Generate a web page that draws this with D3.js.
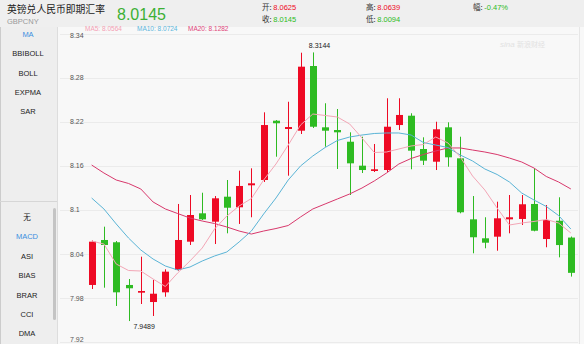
<!DOCTYPE html>
<html>
<head>
<meta charset="utf-8">
<script src="https://cdn.jsdelivr.net/npm/d3@7"></script>
<style>
  html, body { margin: 0; padding: 0; background: #fff; }
  svg { display: block; font-family: "Liberation Sans", Arial, "Noto Sans CJK SC", sans-serif; }
</style>
</head>
<body>
<div id="chart"></div>
<script>
// GBP/CNY daily candles (red = up, green = down)
const opens  = [7.9980, 8.0592, 8.0561, 7.9980, 7.9875, 7.9748, 7.9880, 8.0184, 8.0569, 8.0955,
                8.0841, 8.1181, 8.1037, 8.1336, 8.1408, 8.2215, 8.2102, 8.2079, 8.2959, 8.2125,
                8.2088, 8.1929, 8.1603, 8.1531, 8.1544, 8.2156, 8.2283, 8.1830, 8.1657, 8.2125,
                8.1703, 8.0873, 8.0615, 8.0637, 8.0873, 8.0878, 8.1082, 8.0605, 8.0854, 8.0625];
const closes = [8.0569, 8.0524, 7.9880, 7.9935, 7.9898, 7.9861, 8.0161, 8.0592, 8.0932, 8.0873,
                8.1159, 8.1031, 8.1327, 8.1363, 8.2156, 8.2180, 8.2129, 8.2950, 8.2133, 8.2079,
                8.2057, 8.1635, 8.1544, 8.1554, 8.2133, 8.2293, 8.1807, 8.1671, 8.2098, 8.1717,
                8.0969, 8.0629, 8.0555, 8.0887, 8.0901, 8.1078, 8.0718, 8.0864, 8.0523, 8.0145];
const highs  = [8.0585, 8.0773, 8.0578, 8.0061, 8.0365, 8.0048, 8.0193, 8.1082, 8.1204, 8.1235,
                8.1190, 8.1408, 8.1535, 8.1567, 8.2329, 8.2224, 8.2473, 8.3140, 8.3144, 8.2452,
                8.2374, 8.2057, 8.1997, 8.1898, 8.2520, 8.2520, 8.2316, 8.1989, 8.2201, 8.2193,
                8.1997, 8.1190, 8.0901, 8.1113, 8.1204, 8.1204, 8.1567, 8.1068, 8.1173, 8.0639];
const lows   = [7.9925, 7.9943, 7.9694, 7.9489, 7.9721, 7.9558, 7.9820, 8.0174, 8.0524, 8.0864,
                8.0537, 8.0683, 8.0810, 8.0901, 8.1381, 8.1725, 8.1467, 8.2034, 8.2116, 8.1861,
                8.1558, 8.1204, 8.1503, 8.1517, 8.1517, 8.2088, 8.1554, 8.1612, 8.1544, 8.1589,
                8.0955, 8.0411, 8.0479, 8.0446, 8.0683, 8.0796, 8.0710, 8.0493, 8.0356, 8.0094];

// moving averages as drawn
const ma5  = [8.0578, 8.0537, 8.0265, 8.0177, 8.0170, 8.0061, 7.9959, 8.0143, 8.0306, 8.0483,
              8.0741, 8.0918, 8.1054, 8.1156, 8.1408, 8.1626, 8.1884, 8.2156, 8.2306, 8.2286,
              8.2265, 8.2170, 8.1980, 8.1782, 8.1789, 8.1830, 8.1871, 8.1891, 8.1993, 8.1912,
              8.1721, 8.1463, 8.1272, 8.1027, 8.0796, 8.0823, 8.0844, 8.0871, 8.0823, 8.0687];
const ma10 = [8.1163, 8.1014, 8.0810, 8.0619, 8.0456, 8.0333, 8.0238, 8.0184, 8.0224, 8.0306,
              8.0374, 8.0429, 8.0565, 8.0714, 8.0946, 8.1163, 8.1408, 8.1599, 8.1735, 8.1850,
              8.1946, 8.1993, 8.2020, 8.2041, 8.2048, 8.2048, 8.2020, 8.1918, 8.1884, 8.1850,
              8.1748, 8.1667, 8.1558, 8.1483, 8.1381, 8.1231, 8.1136, 8.1048, 8.0925, 8.0741];
const ma20 = [8.1612, 8.1503, 8.1408, 8.1361, 8.1286, 8.1109, 8.1014, 8.0952, 8.0891, 8.0850,
              8.0816, 8.0769, 8.0714, 8.0673, 8.0714, 8.0748, 8.0789, 8.0905, 8.1014, 8.1082,
              8.1150, 8.1218, 8.1299, 8.1395, 8.1503, 8.1626, 8.1701, 8.1755, 8.1803, 8.1844,
              8.1844, 8.1816, 8.1789, 8.1755, 8.1707, 8.1653, 8.1571, 8.1456, 8.1381, 8.1286];

const yTicks = [8.34, 8.28, 8.22, 8.16, 8.1, 8.04, 7.98, 7.92];
const topMenu = ['MA', 'BBIBOLL', 'BOLL', 'EXPMA', 'SAR'];
const bottomMenu = ['无', 'MACD', 'ASI', 'BIAS', 'BRAR', 'CCI', 'DMA'];

const W = 584, H = 344;
const RED = '#ee0a24', GREEN = '#2ebb22';

const svg = d3.select('#chart').append('svg').attr('width', W).attr('height', H);

// backgrounds
svg.append('rect').attr('width', W).attr('height', H).attr('fill', '#f8f8f8');
svg.append('rect').attr('width', W).attr('height', 27).attr('fill', '#efefef');
svg.append('rect').attr('x', 0).attr('y', 27).attr('width', 57).attr('height', H - 27)
  .attr('fill', '#eeeeee');
svg.append('line').attr('x1', 57.5).attr('x2', 57.5).attr('y1', 27).attr('y2', H)
  .attr('stroke', '#dddddd');
svg.append('line').attr('x1', 0.5).attr('x2', 0.5).attr('y1', 27).attr('y2', H)
  .attr('stroke', '#cccccc');
svg.append('line').attr('x1', 0).attr('x2', 57).attr('y1', 201.5).attr('y2', 201.5)
  .attr('stroke', '#d6d6d6');
svg.append('line').attr('x1', 579.5).attr('x2', 579.5).attr('y1', 27).attr('y2', H)
  .attr('stroke', '#e6e6e6');
// scrollbar
svg.append('rect').attr('x', 53).attr('y', 208).attr('width', 3).attr('height', 112)
  .attr('rx', 1.5).attr('fill', '#c4c4c4');

// header
svg.append('text').attr('x', 7).attr('y', 13).attr('font-size', 9.8).attr('fill', '#222')
  .attr('font-family', '"Noto Sans CJK SC", sans-serif').text('英镑兑人民币即期汇率');
svg.append('text').attr('x', 7).attr('y', 23.5).attr('font-size', 7.5).attr('fill', '#999').text('GBPCNY');
svg.append('text').attr('x', 117).attr('y', 19.5).attr('font-size', 16).attr('fill', '#3cb034').text('8.0145');

const stats = [
  { x: 262, y: 10, k: '开: ', v: '8.0625', c: RED },
  { x: 262, y: 22, k: '收: ', v: '8.0145', c: GREEN },
  { x: 366, y: 10, k: '高: ', v: '8.0639', c: RED },
  { x: 366, y: 22, k: '低: ', v: '8.0094', c: GREEN },
  { x: 473, y: 10, k: '幅: ', v: '-0.47%', c: GREEN }
];
stats.forEach(s => {
  const t = svg.append('text').attr('x', s.x).attr('y', s.y).attr('font-size', 7.5);
  t.append('tspan').attr('fill', '#333').attr('font-family', '"Noto Sans CJK SC", sans-serif').text(s.k);
  t.append('tspan').attr('fill', s.c).text(s.v);
});

// menus
topMenu.forEach((m, i) => {
  svg.append('text').attr('x', 28).attr('y', 37 + i * 19.3).attr('text-anchor', 'middle')
    .attr('font-size', 7.5).attr('fill', i === 0 ? '#3b8fe0' : '#222').text(m);
});
bottomMenu.forEach((m, i) => {
  svg.append('text').attr('x', 27).attr('y', 220 + i * 19.4).attr('text-anchor', 'middle')
    .attr('font-size', 7.5).attr('fill', i === 1 ? '#3b8fe0' : '#222')
    .attr('font-family', i === 0 ? '"Noto Sans CJK SC", sans-serif' : null).text(m);
});

// MA legend
const legend = [
  { x: 85,  t: 'MA5: 8.0564',  c: '#f4a0b4' },
  { x: 137, t: 'MA10: 8.0724', c: '#5bb6dc' },
  { x: 188, t: 'MA20: 8.1282', c: '#e0457a' }
];
legend.forEach(l => {
  svg.append('text').attr('x', l.x).attr('y', 30.5).attr('font-size', 6.5).attr('fill', l.c).text(l.t);
});

// scales
const idx = d3.range(opens.length);
const x = d3.scaleBand().domain(idx).range([85.5, 577]).paddingInner(0.43).paddingOuter(0.215);
const cx = i => x(i) + x.bandwidth() / 2;
const y = d3.scaleLinear().domain([7.92, 8.34]).range([342.3, 33.6]);

// grid + y labels
svg.append('g').selectAll('line').data(yTicks).join('line')
  .attr('x1', 60).attr('x2', 578)
  .attr('y1', d => Math.round(y(d)) + 0.5).attr('y2', d => Math.round(y(d)) + 0.5)
  .attr('stroke', '#ebebeb');
svg.append('g').selectAll('text').data(yTicks).join('text')
  .attr('x', 70).attr('y', d => Math.min(340, Math.max(36, y(d))))
  .attr('dy', '0.35em').attr('font-size', 7).attr('fill', '#555')
  .text(d => d3.format('')(d));

// watermark
svg.append('text').attr('x', 500).attr('y', 47).attr('font-size', 8).attr('fill', '#e2e2e2')
  .attr('font-style', 'italic').text('sina');
svg.append('text').attr('x', 517).attr('y', 47).attr('font-size', 7).attr('fill', '#e2e2e2')
  .attr('font-family', '"Noto Sans CJK SC", sans-serif').text('新浪财经');

// candles
const up = i => closes[i] >= opens[i];
const candles = svg.append('g').selectAll('g').data(idx).join('g');
candles.append('line')
  .attr('x1', i => Math.round(cx(i)) + 0.5).attr('x2', i => Math.round(cx(i)) + 0.5)
  .attr('y1', i => y(highs[i])).attr('y2', i => y(lows[i]))
  .attr('stroke', i => up(i) ? RED : GREEN).attr('stroke-width', 1);
candles.append('rect')
  .attr('x', i => Math.round(cx(i)) + 0.5 - 3.5).attr('width', 7)
  .attr('y', i => y(Math.max(opens[i], closes[i])))
  .attr('height', i => Math.max(1.5, Math.abs(y(opens[i]) - y(closes[i]))))
  .attr('fill', i => up(i) ? RED : GREEN);

// MA lines
const line = arr => d3.line().x((d, i) => cx(i)).y(d => y(d))(arr);
[[ma20, '#d8386c'], [ma10, '#5ab4d6'], [ma5, '#f3a6b6']].forEach(([arr, c]) => {
  svg.append('path').attr('d', line(arr)).attr('fill', 'none').attr('stroke', c).attr('stroke-width', 1);
});

// extreme labels
const hi = d3.maxIndex(highs), lo = d3.minIndex(lows);
svg.append('text').attr('x', cx(hi) - 4).attr('y', y(highs[hi]) - 4).attr('font-size', 7)
  .attr('fill', '#222').text(highs[hi].toFixed(4));
svg.append('text').attr('x', cx(lo) + 5).attr('y', y(lows[lo]) + 8).attr('font-size', 7)
  .attr('fill', '#222').text(lows[lo].toFixed(4));
</script>
</body>
</html>
